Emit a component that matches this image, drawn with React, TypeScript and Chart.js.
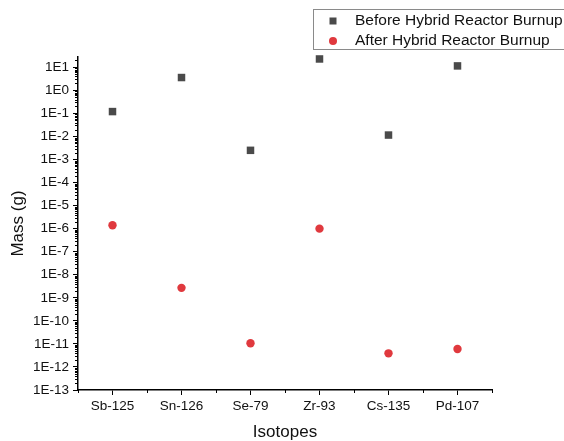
import React, { useEffect, useRef } from "react";
import { Chart, registerables } from "chart.js";

Chart.register(...registerables);

const categories = ["Sb-125", "Sn-126", "Se-79", "Zr-93", "Cs-135", "Pd-107"];
const beforeBurnup = [0.12, 3.6, 0.0025, 23, 0.0115, 11.5];
const afterBurnup = [1.4e-6, 2.7e-9, 1.07e-11, 1.0e-6, 3.9e-12, 6.0e-12];
const yExponents = [-13, -12, -11, -10, -9, -8, -7, -6, -5, -4, -3, -2, -1, 0, 1];
const legendLabels = ["Before Hybrid Reactor Burnup", "After Hybrid Reactor Burnup"];

const FONT = '"Liberation Sans", Arial, sans-serif';
const SQUARE_COLOR = "#4a4a4a";
const CIRCLE_COLOR = "#e0393e";
const Y_MIN = 1e-13;
const Y_MAX = 28;

const decorPlugin = {
  id: "decor",
  afterDraw(chart: any) {
    const ctx = chart.ctx;
    const y = chart.scales.y;
    const area = chart.chartArea;
    ctx.save();
    ctx.strokeStyle = "#000";
    ctx.lineWidth = 1;
    // y minor ticks
    for (let e = -13; e <= 1; e++) {
      for (let k = 2; k <= 9; k++) {
        const v = k * Math.pow(10, e);
        if (v > Y_MAX) continue;
        const py = Math.round(y.getPixelForValue(v)) + 0.5;
        ctx.beginPath();
        ctx.moveTo(area.left, py);
        ctx.lineTo(area.left - 3, py);
        ctx.stroke();
      }
    }
    // x minor ticks at category boundaries
    const n = categories.length;
    for (let i = 0; i <= n; i++) {
      const px = Math.round(area.left + (i * (area.right - area.left)) / n) + 0.5;
      ctx.beginPath();
      ctx.moveTo(px, area.bottom);
      ctx.lineTo(px, area.bottom + 3);
      ctx.stroke();
    }
    // legend
    ctx.strokeStyle = "#8a8a8a";
    ctx.lineWidth = 1;
    ctx.strokeRect(313.5, 9.5, 262, 40);
    ctx.fillStyle = SQUARE_COLOR;
    ctx.fillRect(329.5, 17.5, 7, 7);
    ctx.fillStyle = CIRCLE_COLOR;
    ctx.beginPath();
    ctx.arc(333, 41, 4, 0, Math.PI * 2);
    ctx.fill();
    ctx.fillStyle = "#111";
    ctx.font = `15.5px ${FONT}`;
    ctx.textBaseline = "middle";
    ctx.textAlign = "left";
    ctx.fillText(legendLabels[0], 355, 21);
    ctx.fillText(legendLabels[1], 355, 41);
    ctx.restore();
  },
};

export default function App() {
  const ref = useRef<HTMLCanvasElement | null>(null);

  useEffect(() => {
    document.body.style.margin = "0";
    if (!ref.current) return;
    const chart = new Chart(ref.current, {
      type: "line",
      data: {
        labels: categories,
        datasets: [
          {
            label: legendLabels[0],
            data: beforeBurnup,
            showLine: false,
            clip: false,
            pointStyle: "rect",
            pointRadius: 5.3,
            pointBorderWidth: 0,
            backgroundColor: SQUARE_COLOR,
            borderColor: SQUARE_COLOR,
          },
          {
            label: legendLabels[1],
            data: afterBurnup,
            showLine: false,
            clip: false,
            pointStyle: "circle",
            pointRadius: 4.2,
            pointBorderWidth: 0,
            backgroundColor: CIRCLE_COLOR,
            borderColor: CIRCLE_COLOR,
          },
        ],
      },
      options: {
        animation: false,
        responsive: false,
        layout: { padding: { left: 0, top: 57, right: 72, bottom: 0 } },
        plugins: { legend: { display: false }, tooltip: { enabled: false } },
        scales: {
          x: {
            type: "category",
            offset: true,
            grid: {
              offset: false,
              drawOnChartArea: false,
              drawTicks: true,
              tickLength: 5,
              color: "#000",
              lineWidth: 1,
            },
            border: { display: true, color: "#000", width: 1.5 },
            ticks: {
              color: "#111",
              font: { family: FONT, size: 13.5 },
              padding: 3,
              maxRotation: 0,
              autoSkip: false,
            },
            title: {
              display: true,
              text: "Isotopes",
              color: "#111",
              font: { family: FONT, size: 17, lineHeight: 1 },
              padding: { top: 0, bottom: 0 },
            },
            afterFit(scale: any) {
              scale.height = 51;
            },
          },
          y: {
            type: "logarithmic",
            min: Y_MIN,
            max: Y_MAX,
            grid: {
              drawOnChartArea: false,
              drawTicks: true,
              tickLength: 5,
              color: "#000",
              lineWidth: 1,
            },
            border: { display: true, color: "#000", width: 1.5 },
            afterBuildTicks(scale: any) {
              scale.ticks = yExponents.map((e) => ({ value: Math.pow(10, e) }));
            },
            ticks: {
              color: "#111",
              font: { family: FONT, size: 13.5 },
              padding: 4,
              autoSkip: false,
              callback: (v: any) => `1E${Math.round(Math.log10(Number(v)))}`,
            },
            title: {
              display: true,
              text: "Mass (g)",
              color: "#111",
              font: { family: FONT, size: 17, lineHeight: 1 },
              padding: { top: 10, bottom: 0 },
            },
            afterFit(scale: any) {
              scale.width = 78;
            },
          },
        },
      },
      plugins: [decorPlugin],
    });
    return () => chart.destroy();
  }, []);

  return (
    <div style={{ position: "absolute", left: 0, top: 0, width: 564, height: 441 }}>
      <canvas ref={ref} width={564} height={441} style={{ width: 564, height: 441 }} />
    </div>
  );
}
